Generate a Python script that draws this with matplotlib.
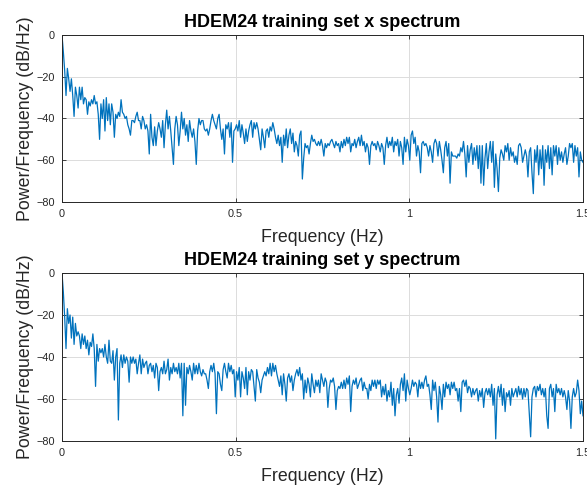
import numpy as np
import matplotlib
matplotlib.use("Agg")
from matplotlib import pyplot as plt

plt.rcParams['font.family'] = ['Liberation Sans', 'DejaVu Sans']

# power spectral density values (dB/Hz), uniform frequency bins 0..1.5 Hz
xSpec = [0,-8,-17,-29,-16,-21,-27,-21,-29,-39,-25,-29,-35,-25,-31,-25,-33,-30,-31,-38,
         -32,-34,-31,-33,-29,-33,-32,-38,-50,-33,-40,-31,-46,-30,-41,-33,-43,-33,-37,-49,
         -38,-40,-37,-39,-31,-37,-38,-40,-39,-43,-45,-48,-41,-41,-42,-39,-37,-41,-41,-45,
         -39,-41,-45,-43,-46,-57,-38,-49,-53,-44,-53,-46,-42,-45,-49,-41,-54,-43,-36,-45,
         -39,-46,-54,-62,-45,-39,-43,-53,-46,-37,-45,-40,-48,-43,-51,-41,-46,-49,-45,-51,
         -62,-46,-40,-43,-41,-41,-45,-46,-45,-48,-45,-41,-38,-41,-43,-45,-40,-38,-45,-50,
         -45,-57,-43,-45,-42,-49,-42,-61,-46,-45,
         -43,-46,-41,-49,-43,-47,-52,-45,-51,-46,-43,-41,-49,-42,-45,-42,-45,-50,-55,-45,
         -49,-54,-46,-45,-49,-44,-46,-42,-45,-49,-52,-48,-53,-49,-61,-48,-53,-45,-54,-48,
         -45,-52,-47,-56,-51,-53,-58,-48,-46,-69,-59,-52,-54,-53,-57,-52,-48,-51,-50,-52,
         -53,-51,-53,-50,-53,-58,-52,-54,-52,-53,-51,-50,-52,-54,-51,-53,-52,-56,-51,-54,
         -50,-53,-49,-52,-49,-56,-52,-53,-50,-54,-51,-49,-53,-48,-53,-51,-56,-52,-54,-62,
         -53,-51,-53,-52,-55,-51,-53,-56,-52,-54,-62,-53,-49,-54,-51,-53,-49,-56,-51,-53,
         -50,-58,-51,-54,-62,-49,-56,-50,-53,-60,
         -48,-46,-52,-49,-58,-53,-56,-66,-52,-51,-53,-52,-54,-58,-53,-56,-61,-52,-50,-52,
         -58,-51,-55,-60,-66,-54,-51,-58,-52,-71,-56,-58,-58,-58,-59,-57,-58,-54,-56,-51,
         -57,-68,-53,-61,-55,-52,-62,-54,-60,-53,-64,-53,-71,-53,-72,-59,-52,-64,-56,-51,
         -61,-51,-73,-57,-64,-75,-59,-55,-57,-60,-53,-56,-52,-60,-54,-58,-56,-61,-58,-62,
         -53,-52,-54,-61,-58,-55,-58,-68,-56,-54,-66,-76,-55,-61,-53,-67,-55,-64,-53,-72,
         -55,-61,-53,-64,-54,-67,-53,-58,-53,-62,-54,-60,-56,-61,-57,-54,-62,-58,-52,-54,
         -52,-61,-53,-58,-54,-68,-56,-60,-61]

ySpec = [0,-9,-21,-36,-17,-24,-20,-31,-21,-34,-24,-30,-28,-30,-36,-29,-34,-30,-36,-32,
         -39,-33,-35,-29,-36,-54,-34,-42,-36,-38,-36,-40,-34,-40,-43,-32,-42,-43,-37,-51,
         -40,-36,-70,-43,-39,-45,-39,-43,-40,-42,-52,-40,-43,-40,-43,-41,-48,-43,-39,-48,
         -41,-45,-43,-42,-48,-44,-43,-47,-44,-50,-43,-45,-56,-47,-45,-48,-42,-48,-46,-41,
         -51,-45,-48,-43,-47,-45,-48,-43,-50,-43,-68,-43,-63,-45,-48,-44,-47,-51,-43,-48,
         -44,-48,-43,-47,-49,-46,-48,-48,-51,-55,-47,-44,-47,-43,-48,-67,-47,-48,-53,-56,
         -46,-43,-47,-50,-43,-47,-44,-48,-46,-59,
         -47,-51,-45,-59,-47,-50,-55,-45,-58,-47,-51,-46,-47,-54,-61,-46,-50,-52,-57,-51,
         -49,-47,-49,-45,-48,-43,-49,-43,-47,-44,-48,-51,-54,-49,-58,-48,-53,-61,-50,-48,
         -52,-49,-56,-51,-48,-46,-49,-45,-51,-48,-60,-51,-57,-50,-53,-59,-48,-53,-57,-51,
         -54,-51,-57,-48,-51,-54,-50,-52,-64,-55,-51,-52,-50,-54,-65,-56,-54,-55,-52,-55,
         -51,-55,-50,-53,-49,-66,-54,-51,-53,-50,-55,-53,-51,-50,-56,-52,-55,-55,-60,-53,
         -56,-51,-54,-51,-55,-51,-53,-51,-59,-54,-58,-53,-61,-56,-59,-52,-63,-55,-68,-58,
         -55,-62,-53,-50,-56,-48,-61,-51,-55,-58,
         -55,-51,-54,-52,-53,-59,-51,-55,-52,-55,-51,-49,-54,-53,-58,-65,-51,-56,-52,-59,
         -71,-54,-58,-65,-53,-59,-52,-55,-53,-58,-52,-55,-52,-56,-55,-61,-55,-66,-52,-51,
         -54,-51,-57,-54,-55,-59,-55,-58,-56,-55,-61,-56,-59,-55,-64,-57,-55,-58,-55,-59,
         -53,-63,-55,-79,-58,-54,-59,-53,-63,-55,-66,-57,-59,-56,-63,-55,-59,-57,-55,-59,
         -54,-58,-55,-60,-55,-59,-55,-56,-67,-78,-59,-55,-54,-59,-54,-56,-53,-58,-55,-59,
         -55,-68,-74,-55,-53,-59,-55,-66,-53,-57,-55,-58,-55,-59,-56,-59,-65,-56,-61,-74,
         -59,-55,-59,-57,-51,-56,-67,-61,-68]

titles = ["HDEM24 training set x spectrum", "HDEM24 training set y spectrum"]
xTicks = [0, 0.5, 1, 1.5]
xTickLabels = ["0", "0.5", "1", "1.5"]
yTicks = [-80, -60, -40, -20, 0]

fig = plt.figure(figsize=(5.87, 4.90), dpi=100)
ax1 = fig.add_axes([0.1056, 0.5878, 0.8876, 0.3408])
ax2 = fig.add_axes([0.1056, 0.1000, 0.8876, 0.3429])

dark = "#262626"
for ax, spec, title in zip([ax1, ax2], [xSpec, ySpec], titles):
    freq = np.linspace(0, 1.5, len(spec))
    ax.plot(freq, spec, color="#0072BD", lw=0.9)
    ax.set_xlim(0, 1.5)
    ax.set_ylim(-80, 0)
    ax.set_xticks(xTicks)
    ax.set_xticklabels(xTickLabels)
    ax.set_yticks(yTicks)
    ax.grid(True, color="#dcdcdc", lw=0.7)
    ax.set_axisbelow(True)
    ax.tick_params(direction="in", length=3, width=0.6, labelsize=7.8, colors=dark,
                   top=True, right=True, pad=5)
    for s in ax.spines.values():
        s.set_color(dark)
        s.set_linewidth(0.7)
    ax.set_title(title, fontsize=13, fontweight="bold", color="black", pad=6)
    ax.set_xlabel("Frequency (Hz)", fontsize=12.8, color=dark, labelpad=7)
    ax.set_ylabel("Power/Frequency (dB/Hz)", fontsize=12.8, color=dark, labelpad=2)

fig.savefig("out.png", dpi=100)
